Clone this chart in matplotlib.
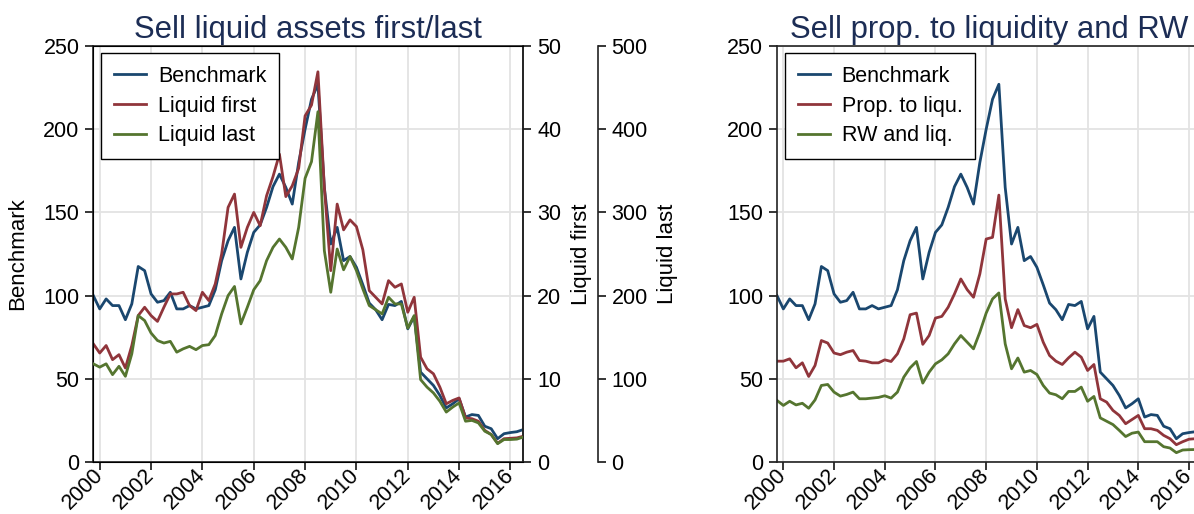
import numpy as np
import pandas as pd
import matplotlib
matplotlib.use("Agg")
import matplotlib.pyplot as plt

# quarterly data, 1999Q4 - 2016Q3
quarters = pd.period_range("1999Q4", "2016Q3", freq="Q")

benchmark = [100, 92, 98, 94, 94, 85.5, 95, 117.5, 115, 101,
             96, 97, 102, 92, 92, 94, 92, 93, 94, 103.5,
             121, 133, 141, 110, 126, 138, 142.5, 153, 165.5, 173,
             165, 155, 180, 200, 218, 227, 165, 131, 141, 121,
             123.5, 117, 106.5, 95.5, 91.5, 85.5, 94.7, 94, 96.5, 80,
             87.5, 54, 50, 46, 40, 32.5, 35, 38, 27, 28.5,
             28, 21.5, 20, 14, 17, 17.7, 18.2, 19.5]

liquid_first = [14.2, 13.1, 14.0, 12.3, 12.9, 11.3, 14.0, 17.6, 18.6, 17.6,
                16.9, 18.6, 20.2, 20.2, 20.4, 18.8, 18.2, 20.4, 19.4, 21.4,
                25.0, 30.6, 32.2, 25.8, 28.2, 30.0, 28.4, 32.0, 34.3, 37.0,
                31.9, 33.2, 35.3, 41.6, 42.9, 46.9, 33.0, 23.0, 31.0, 27.9,
                29.1, 28.3, 25.5, 20.6, 19.8, 19.0, 21.8, 21.0, 21.4, 18.0,
                19.8, 12.6, 11.2, 10.6, 9.0, 7.0, 7.4, 7.7, 5.3, 5.2,
                4.9, 3.8, 3.3, 2.25, 2.8, 2.85, 2.9, 3.1]

liquid_last = [118, 114, 118, 105, 115, 103, 130, 176, 170, 155,
               146, 143, 145, 132, 136, 139, 135, 140, 141, 152,
               178, 200, 211, 166, 186, 207, 218, 242, 258, 268,
               258, 244, 282, 341, 361, 421, 254, 204, 256, 231,
               247, 230, 208, 188, 183, 178, 198, 190, 190, 161,
               176, 99, 90, 83, 73, 60, 66, 71, 49, 50,
               47, 37, 33, 22, 27, 27, 27.5, 30]

prop_liqu = [60.6, 60.6, 62, 56.6, 59.6, 51.4, 58, 73, 71.5, 65.5,
             64.5, 66, 67, 61, 60.6, 59.6, 59.6, 61.4, 60.4, 65,
             74, 88.5, 89.5, 70.7, 76, 86.5, 87.5, 93, 101, 110,
             103.6, 99, 113, 134, 135, 160.4, 98, 80.7, 91.6, 82,
             80.7, 82.7, 72, 64, 60.6, 58.6, 62.6, 66, 63, 55,
             58.6, 38, 36, 31, 28, 23, 25.5, 28, 20, 20,
             19, 16, 14, 10.4, 12.2, 13.7, 14, 14.5]

rw_liq = [37, 34, 36.5, 34.3, 35.3, 32.3, 37.3, 46, 46.6, 42,
          39.6, 40.6, 42, 38, 38, 38.4, 38.8, 39.8, 38.4, 42,
          51, 56.6, 60.4, 47.4, 54, 59, 61.4, 65, 71, 76,
          72, 68, 78, 89.5, 98, 101.6, 71, 56, 62.5, 54,
          55, 52.6, 46, 41.4, 40.4, 38, 42.4, 42.4, 45, 36.5,
          39.4, 26.5, 24.5, 22.5, 19, 15.3, 17.3, 18, 12.2, 12.2,
          12.2, 9.2, 8.4, 5.6, 7.2, 7.4, 7.5, 7.6]

year_ticks = list(range(2000, 2017, 2))

x = quarters.year + (quarters.quarter - 1) / 4.0

NAVY, MAROON, GREEN = "#1a476f", "#90353b", "#55752f"
TITLE_C = "#1c2d55"
GRID_C = "#e3e3e3"
LW = 2.0

plt.rcParams["font.family"] = ["Liberation Sans", "DejaVu Sans"]

W, H = 1194, 514
fig = plt.figure(figsize=(W / 100, H / 100), dpi=100)


def style_axis(ax):
    ax.set_xlim(x[0], x[-1])
    ax.set_ylim(0, 250)
    ax.set_yticks(range(0, 251, 50))
    ax.set_xticks(year_ticks)
    ax.set_xticklabels([str(y) for y in year_ticks], rotation=45,
                       ha="right", va="center", rotation_mode="anchor")
    ax.grid(True, color=GRID_C, linewidth=1.3)
    ax.set_axisbelow(True)
    ax.tick_params(direction="out", length=6, width=1.1, labelsize=15.5,
                   pad=4, colors="black")
    ax.tick_params(axis="x", pad=1)
    for s in ax.spines.values():
        s.set_linewidth(1.2)
        s.set_color("#222222")


def legend(ax, handles, labels):
    leg = ax.legend(handles, labels, loc="upper left",
                    bbox_to_anchor=(0.018, 0.983), borderaxespad=0,
                    fontsize=15.5, frameon=True, fancybox=False,
                    framealpha=1, edgecolor="black", handlelength=1.5,
                    handletextpad=0.55, labelspacing=0.4, borderpad=0.6)
    leg.get_frame().set_linewidth(1.0)
    return leg


# ---------- left panel: three y axes ----------
ax1 = fig.add_axes([93.3 / W, 52 / H, 430 / W, 416 / H])
style_axis(ax1)
ax2 = ax1.twinx()
ax3 = ax1.twinx()
ax3.spines["right"].set_position(("axes", (597.7 - 93.3) / 430))
for a in (ax2, ax3):
    a.patch.set_visible(False)
    a.tick_params(direction="out", length=6, width=1.1, labelsize=15.5, pad=4)
    a.spines["right"].set_linewidth(1.2)
    a.spines["right"].set_color("#222222")
for s in ("top", "left", "bottom"):
    ax3.spines[s].set_visible(False)
ax2.set_ylim(0, 50)
ax2.set_yticks(range(0, 51, 10))
ax3.set_ylim(0, 500)
ax3.set_yticks(range(0, 501, 100))

l1, = ax1.plot(x, benchmark, color=NAVY, lw=LW)
l2, = ax2.plot(x, liquid_first, color=MAROON, lw=LW)
l3, = ax3.plot(x, liquid_last, color=GREEN, lw=LW)

ax1.set_ylabel("Benchmark", fontsize=16)
ax1.yaxis.set_label_coords(-0.152, 0.5)
ax2.set_ylabel("Liquid first", fontsize=16)
ax2.yaxis.set_label_coords(1.112, 0.5)
ax3.set_ylabel("Liquid last", fontsize=16)
ax3.yaxis.set_label_coords(1.31, 0.5)
ax1.set_title("Sell liquid assets first/last", fontsize=22.3, color=TITLE_C, pad=6)
legend(ax3, [l1, l2, l3], ["Benchmark", "Liquid first", "Liquid last"])

# ---------- right panel ----------
ax4 = fig.add_axes([777 / W, 52 / H, 424.7 / W, 416 / H])
style_axis(ax4)
m1, = ax4.plot(x, benchmark, color=NAVY, lw=LW)
m2, = ax4.plot(x, prop_liqu, color=MAROON, lw=LW)
m3, = ax4.plot(x, rw_liq, color=GREEN, lw=LW)
ax4.set_title("Sell prop. to liquidity and RW", fontsize=22.3, color=TITLE_C, pad=6)
legend(ax4, [m1, m2, m3], ["Benchmark", "Prop. to liqu.", "RW and liq."])

fig.savefig("out.png", dpi=100)
